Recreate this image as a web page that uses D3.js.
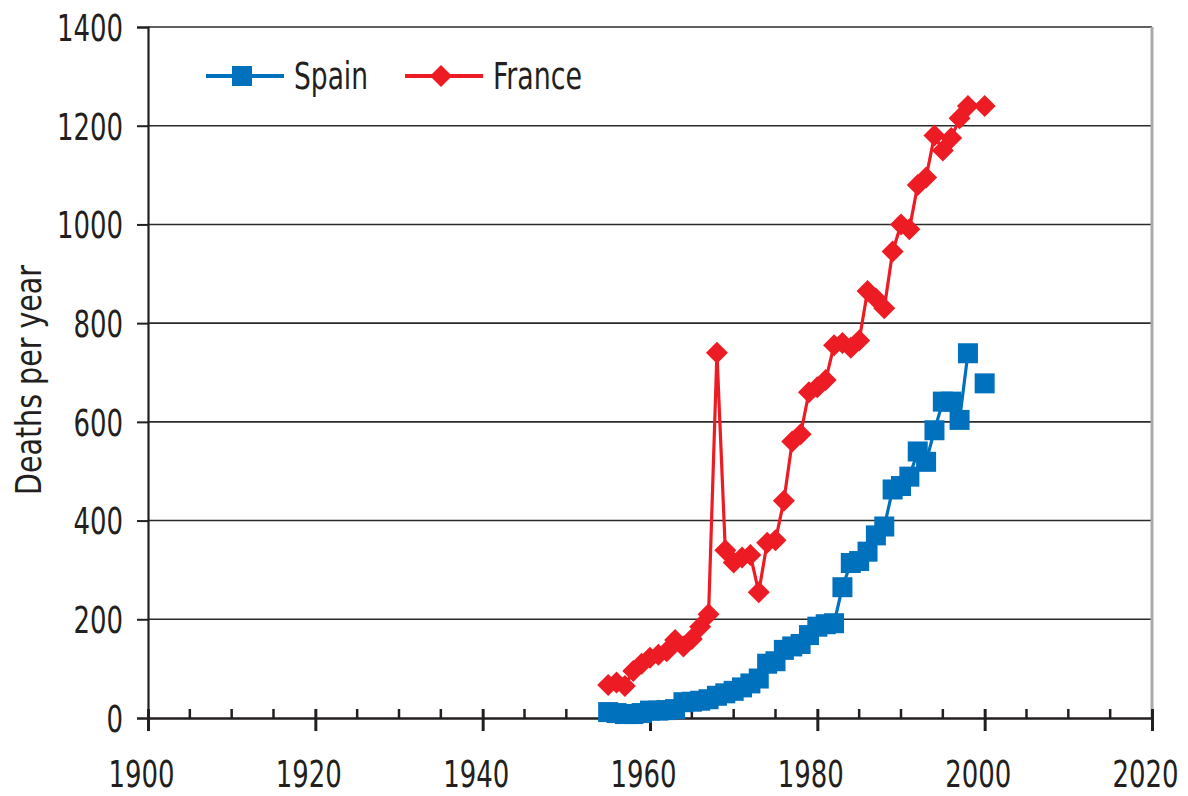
<!DOCTYPE html>
<html>
<head>
<meta charset="utf-8">
<script src="https://cdn.jsdelivr.net/npm/d3@7"></script>
<style>
  body { margin: 0; background: #fff; }
  svg text { font-family: "Liberation Sans Narrow", "DejaVu Sans Condensed", "Roboto Condensed", sans-serif; fill: #231f20; }
</style>
</head>
<body>
<svg id="chart" width="1188" height="796"></svg>
<script>
// years 1955..2000, null = no point
const years = d3.range(1955, 2001);
const spain = [12, 10, 8, 8, 10, 15, 15, 16, 18, 32, 33, 35, 38, 45, 50, 55, 62, 70, 80, 110,
  115, 138, 145, 150, 168, 185, 190, 192, 265, 314, 318, 337, 370, 388, 463, 470, 489, 540, 519, 583,
  641, 641, 604, 739, null, 678];
const france = [67, 72, 65, 95, 110, 122, 128, 135, 158, 145, 160, 185, 210, 740, 340, 315, 325, 330, 255, 355,
  360, 440, 560, 575, 660, 670, 685, 755, 760, 750, 765, 865, 850, 830, 945, 1000, 990, 1080, 1095, 1180,
  1150, 1175, 1215, 1240, null, 1240];
const yTicks = [0, 200, 400, 600, 800, 1000, 1200, 1400];
const xMajor = [1900, 1920, 1940, 1960, 1980, 2000, 2020];
const xMinor = d3.range(1905, 2020, 5).filter(v => v % 20 != 0);
const series = [
  {name: 'Spain', values: spain, color: '#0071bc', shape: 'square', textW: 74},
  {name: 'France', values: france, color: '#ed1c24', shape: 'diamond', textW: 89}
];

const svg = d3.select('#chart');
const x = d3.scaleLinear().domain([1900, 2020]).range([148, 1152]);
const y = d3.scaleLinear().domain([0, 1400]).range([718, 27]);
const sx = 0.78; // squeeze digits to look like a narrow font

// gridlines
svg.append('g').selectAll('line').data(yTicks.filter(d => d > 0)).join('line')
  .attr('x1', x(1900)).attr('x2', x(2020))
  .attr('y1', d => y(d)).attr('y2', d => y(d))
  .attr('stroke', '#2b2b2b').attr('stroke-width', 1.6);

// right border
svg.append('line')
  .attr('x1', x(2020)).attr('x2', x(2020)).attr('y1', y(1400)).attr('y2', y(0))
  .attr('stroke', '#a7a9ac').attr('stroke-width', 3);

// y axis
const yAxis = svg.append('g').attr('transform', `translate(${x(1900)},0)`)
  .call(d3.axisLeft(y).tickValues(yTicks).tickFormat(d3.format('d')).tickSize(11).tickPadding(14));
yAxis.select('.domain').attr('stroke', '#231f20').attr('stroke-width', 2.2);
yAxis.selectAll('.tick line').attr('stroke', '#231f20').attr('stroke-width', 2);
yAxis.selectAll('.tick text').attr('font-size', 37).attr('dy', '0.36em')
  .attr('x', -25 / sx).attr('transform', `scale(${sx},1)`);

// x axis
const xAxis = svg.append('g').attr('transform', `translate(0,${y(0)})`)
  .call(d3.axisBottom(x).tickValues(xMajor).tickFormat(d3.format('d')).tickSize(13).tickPadding(30).tickSizeOuter(0));
xAxis.select('.domain').attr('stroke', '#231f20').attr('stroke-width', 2.4);
xAxis.selectAll('.tick line').attr('y1', -9).attr('stroke', '#231f20').attr('stroke-width', 3);
xAxis.selectAll('.tick text').attr('font-size', 37).attr('dx', -7 / sx)
  .attr('transform', `scale(${sx},1)`);
xAxis.selectAll('.minor').data(xMinor).join('line').attr('class', 'minor')
  .attr('x1', d => x(d)).attr('x2', d => x(d)).attr('y1', -9).attr('y2', 0)
  .attr('stroke', '#231f20').attr('stroke-width', 2.5);

// y title
svg.append('text')
  .attr('transform', 'translate(41,380) rotate(-90)')
  .attr('text-anchor', 'middle').attr('font-size', 35)
  .attr('textLength', 230).attr('lengthAdjust', 'spacingAndGlyphs')
  .text('Deaths per year');

function marker(sel, shape, color) {
  if (shape == 'square') {
    sel.append('rect').attr('x', -10).attr('y', -10).attr('width', 20).attr('height', 20).attr('fill', color);
  } else {
    sel.append('path').attr('d', 'M0,-11L11,0L0,11L-11,0Z').attr('fill', color);
  }
}

const line = d3.line()
  .defined(d => d.v != null)
  .x(d => x(d.year)).y(d => y(d.v));

series.forEach(s => {
  const pts = years.map((yr, i) => ({year: yr, v: s.values[i]}));
  const g = svg.append('g');
  g.append('path').datum(pts).attr('d', line)
    .attr('fill', 'none').attr('stroke', s.color).attr('stroke-width', 3.2).attr('stroke-linejoin', 'round');
  g.selectAll('g.pt').data(pts.filter(d => d.v != null)).join('g').attr('class', 'pt')
    .attr('transform', d => `translate(${x(d.year)},${y(d.v)})`)
    .each(function() { marker(d3.select(this), s.shape, s.color); });
});

// legend
const legend = svg.append('g');
const lx = [206, 405];
series.forEach((s, i) => {
  const g = legend.append('g').attr('transform', `translate(${lx[i]},76)`);
  g.append('line').attr('x1', 0).attr('x2', 78).attr('stroke', s.color).attr('stroke-width', 4);
  const m = g.append('g').attr('transform', 'translate(36,0)');
  marker(m, s.shape, s.color);
  g.append('text').attr('x', 88).attr('dy', '0.36em').attr('font-size', 37)
    .attr('textLength', s.textW).attr('lengthAdjust', 'spacingAndGlyphs').text(s.name);
});
</script>
</body>
</html>
